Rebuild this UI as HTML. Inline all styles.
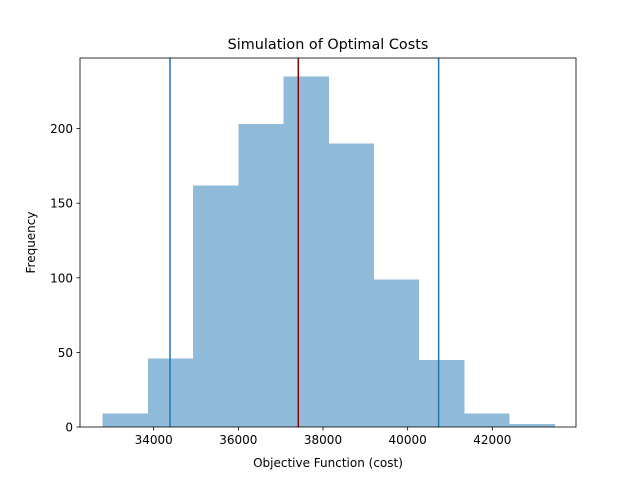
<!DOCTYPE html>
<html><head><meta charset="utf-8"><style>
body{margin:0;background:#fff;}
svg text{font-family:"DejaVu Sans","Liberation Sans",sans-serif;fill:#000;}
</style></head><body>
<svg id="chart" width="640" height="480" xmlns="http://www.w3.org/2000/svg">
<rect width="640" height="480" fill="#fff"/>
<g id="bars" shape-rendering="crispEdges"></g>
<g id="vlines"></g>
<g id="axes"></g>
<text x="328" y="49" font-size="14.4" text-anchor="middle">Simulation of Optimal Costs</text>
<text x="328" y="467" font-size="12" text-anchor="middle">Objective Function (cost)</text>
<text transform="translate(35,242.5) rotate(-90)" font-size="12" text-anchor="middle">Frequency</text>
</svg>
<script>
const binEdges=[32796,33864,34932,36000,37068,38136,39204,40272,41340,42408,43476];
const counts=[9,46,162,203,235,190,99,45,9,2];
const xTicks=[34000,36000,38000,40000,42000];
const yTicks=[0,50,100,150,200];
const ciLines=[34385,40732];
const meanLine=37416;
const L=80,R=576,T=58,B=427;
const xs=v=>153.7+(v-34000)*(84.65/2000);
const ys=v=>B-v*1.492;
const NS="http://www.w3.org/2000/svg";
function mk(t,a,p){const e=document.createElementNS(NS,t);for(const k in a)e.setAttribute(k,a[k]);p.appendChild(e);return e;}
const bars=document.getElementById('bars');
counts.forEach((c,i)=>{
 const x0=xs(binEdges[i]),x1=xs(binEdges[i+1]);
 const r=mk('rect',{x:x0,y:ys(c),width:x1-x0,height:B-ys(c),fill:'#8fbbd9'},bars);
 
 
});
const vl=document.getElementById('vlines');
ciLines.forEach((v,i)=>{
 const l=mk('line',{x1:xs(v),x2:xs(v),y1:T,y2:B,stroke:'#1f77b4','stroke-width':1.5},vl);
 
 
});
const ml=mk('line',{x1:xs(meanLine),x2:xs(meanLine),y1:T,y2:B,stroke:'#8b0000','stroke-width':1.5},vl);


const ax=document.getElementById('axes');
const fr=mk('rect',{x:L,y:T,width:R-L,height:B-T,fill:'none',stroke:'#000','stroke-width':0.8},ax);


xTicks.forEach(v=>{
 const x=xs(v);
 mk('line',{x1:x,x2:x,y1:B,y2:B+3.5,stroke:'#000','stroke-width':0.8},ax);
 const t=mk('text',{x:x,y:B+17,'font-size':12,'text-anchor':'middle'},ax);
 t.textContent=v;
 
 
});
yTicks.forEach(v=>{
 const y=ys(v);
 mk('line',{x1:L-3.5,x2:L,y1:y,y2:y,stroke:'#000','stroke-width':0.8},ax);
 const t=mk('text',{x:L-7,y:y+4.5,'font-size':12,'text-anchor':'end'},ax);
 t.textContent=v;
 
 
});
</script>
</body></html>
